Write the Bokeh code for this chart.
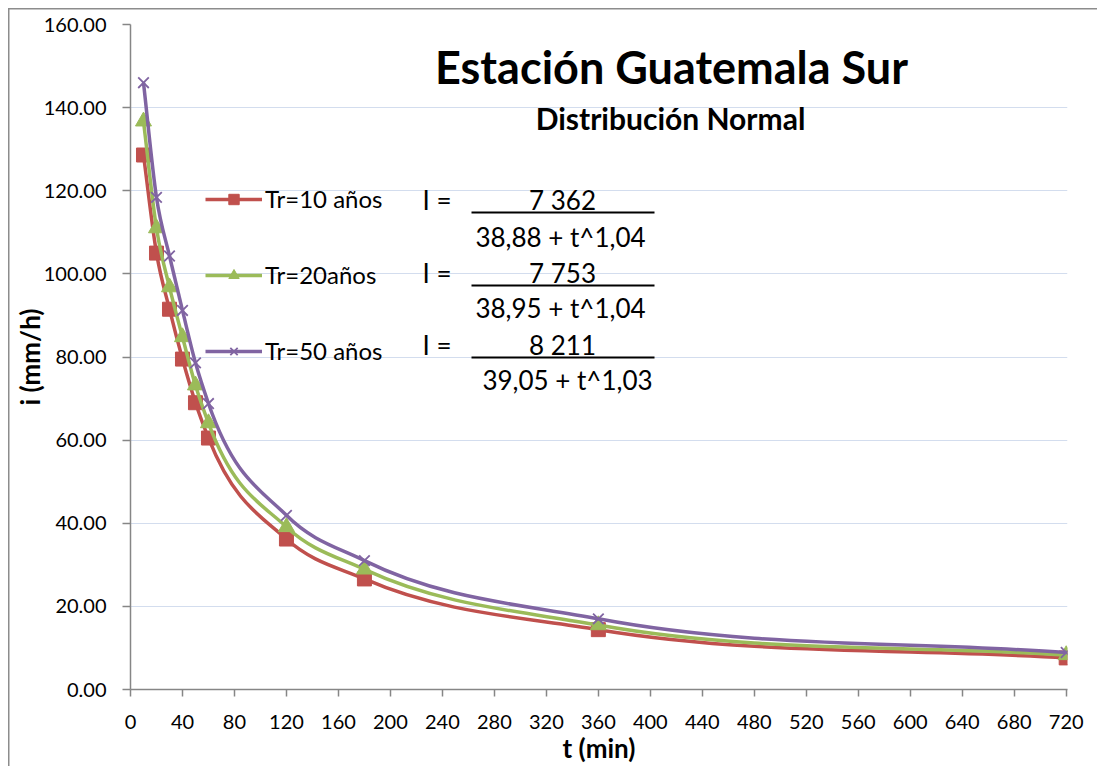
from bokeh.plotting import figure
from bokeh.models import (ColumnDataSource, Legend, LegendItem, Label, BoxAnnotation,
                          FixedTicker, NumeralTickFormatter, Range1d)
from bokeh.embed import file_html
from bokeh.resources import INLINE

# ---- data ----
t_min = [10, 20, 30, 40, 50, 60, 120, 180, 360, 720]
tr10 = [128.6, 105.0, 91.5, 79.5, 69.0, 60.5, 36.2, 26.6, 14.4, 7.6]
tr20 = [136.7, 111.0, 96.8, 84.8, 73.2, 64.1, 39.1, 28.9, 15.5, 8.3]
tr50 = [146.0, 118.4, 104.3, 91.2, 78.6, 68.8, 41.9, 31.0, 17.0, 8.9]
series_names = ["Tr=10 años", "Tr=20años", "Tr=50 años"]
x_ticks = list(range(0, 721, 40))
y_ticks = list(range(0, 161, 20))
title_text = "Estación Guatemala Sur"
subtitle_text = "Distribución Normal"
x_title = "t (min)"
y_title = "i (mm/h)"
numerators = ["7 362", "7 753", "8 211"]
denominators = ["38,88 + t^1,04", "38,95 + t^1,04", "39,05 + t^1,03"]

FONT = "Lato"
colors = ["#C0504D", "#9BBB59", "#8064A2"]

p = figure(width=1097, height=766, output_backend="svg", toolbar_location=None,
           x_range=Range1d(0, 721), y_range=Range1d(0, 160),
           min_border_left=130, min_border_right=30, min_border_top=24, min_border_bottom=76)
p.outline_line_color = None
p.background_fill_color = "white"
p.border_fill_alpha = 0
# outer chart-area border along the top and left edges
p.styles = {"box-shadow": "inset 8px 8px 0 0 white, inset 9.5px 9.5px 0 0 #8C8C8C",
            "background-color": "white"}

# grid
p.xgrid.grid_line_color = None
p.ygrid.grid_line_color = "#D3DDEE"
p.ygrid.grid_line_width = 1.2
p.ygrid.ticker = FixedTicker(ticks=y_ticks)

# axes
for ax in (p.xaxis[0], p.yaxis[0]):
    ax.axis_line_color = "#868686"
    ax.axis_line_width = 1.5
    ax.major_tick_line_color = "#868686"
    ax.major_tick_line_width = 1.5
    ax.major_tick_in = 0
    ax.minor_tick_line_color = None
    ax.major_label_text_font = FONT
    ax.major_label_text_font_size = "20px"
    ax.major_label_text_color = "black"
    ax.axis_label_text_font = FONT
    ax.axis_label_text_font_style = "bold"
    ax.axis_label_text_font_size = "26px"
    ax.axis_label_text_color = "black"

p.xaxis.ticker = FixedTicker(ticks=x_ticks)
p.xaxis.major_tick_out = 7
p.xaxis.major_label_standoff = 18
p.xaxis.axis_label = x_title
p.xaxis.axis_label_standoff = 0

p.yaxis.ticker = FixedTicker(ticks=y_ticks)
p.yaxis.formatter = NumeralTickFormatter(format="0.00")
p.yaxis.major_tick_out = 8
p.yaxis.major_label_standoff = 16
p.yaxis.axis_label = y_title
p.yaxis.axis_label_standoff = -5


def smooth_source(xs, ys):
    """Cubic Hermite (as Bezier control points) through the data points."""
    n = len(xs)
    d = [(ys[i + 1] - ys[i]) / (xs[i + 1] - xs[i]) for i in range(n - 1)]
    h = [xs[i + 1] - xs[i] for i in range(n - 1)]
    m = [d[0]]
    for i in range(1, n - 1):
        m.append((h[i] * d[i - 1] + h[i - 1] * d[i]) / (h[i - 1] + h[i]))
    m.append(d[-1])
    out = dict(x0=[], y0=[], x1=[], y1=[], cx0=[], cy0=[], cx1=[], cy1=[])
    for i in range(n - 1):
        out["x0"].append(xs[i]); out["y0"].append(ys[i])
        out["x1"].append(xs[i + 1]); out["y1"].append(ys[i + 1])
        out["cx0"].append(xs[i] + h[i] / 3.0)
        out["cy0"].append(ys[i] + m[i] * h[i] / 3.0)
        out["cx1"].append(xs[i + 1] - h[i] / 3.0)
        out["cy1"].append(ys[i + 1] - m[i + 1] * h[i] / 3.0)
    return ColumnDataSource(out)


items = []
markers = ["square", "triangle", "x"]
sizes = [14, 16, 15]
for ys, name, col, mk, sz in zip([tr10, tr20, tr50], series_names, colors, markers, sizes):
    src = ColumnDataSource(dict(x=t_min, y=ys))
    br = p.bezier(x0="x0", y0="y0", x1="x1", y1="y1", cx0="cx0", cy0="cy0", cx1="cx1", cy1="cy1",
                  source=smooth_source(t_min, ys), line_color=col, line_width=3.5)
    if mk == "x":
        sr = p.scatter("x", "y", source=src, marker=mk, size=sz, line_color=col, line_width=1.8)
    else:
        sr = p.scatter("x", "y", source=src, marker=mk, size=sz, fill_color=col, line_color=col)
    items.append(LegendItem(label=name, renderers=[br, sr]))

legend = Legend(items=items, location=(75, 324), orientation="vertical",
                background_fill_alpha=0, border_line_color=None,
                padding=0, margin=0, spacing=47, glyph_width=57, glyph_height=26,
                label_height=26, label_standoff=3,
                label_text_font=FONT, label_text_font_size="24px", label_text_color="black")
p.add_layout(legend, "center")

FX, FY = 130, 690  # frame left / bottom in page pixels


def lab(text, x, y, size, bold=False, align="left"):
    p.add_layout(Label(x=x - FX, y=FY - y, x_units="screen", y_units="screen", text=text,
                       text_font=FONT, text_font_size=size, text_align=align,
                       text_baseline="middle", text_color="black",
                       text_font_style="bold" if bold else "normal"))


lab(title_text, 671, 67, "45px", bold=True, align="center")
lab(subtitle_text, 670, 118, "30px", bold=True, align="center")

row_y = [200, 273, 345]
den_y = [237, 308, 380]
line_y = [213, 286, 358]
den_x = [560, 560, 567]
for i in range(3):
    lab("I =", 422, row_y[i], "26px")
    lab(numerators[i], 562, row_y[i], "26px", align="center")
    lab(denominators[i], den_x[i], den_y[i], "26px", align="center")
    p.add_layout(BoxAnnotation(left=471 - FX, right=654 - FX, bottom=FY - line_y[i] - 1,
                               top=FY - line_y[i] + 1,
                               left_units="screen", right_units="screen",
                               bottom_units="screen", top_units="screen",
                               fill_color="black", fill_alpha=1, line_color=None))

open("out.html", "w").write(file_html(p, INLINE))
